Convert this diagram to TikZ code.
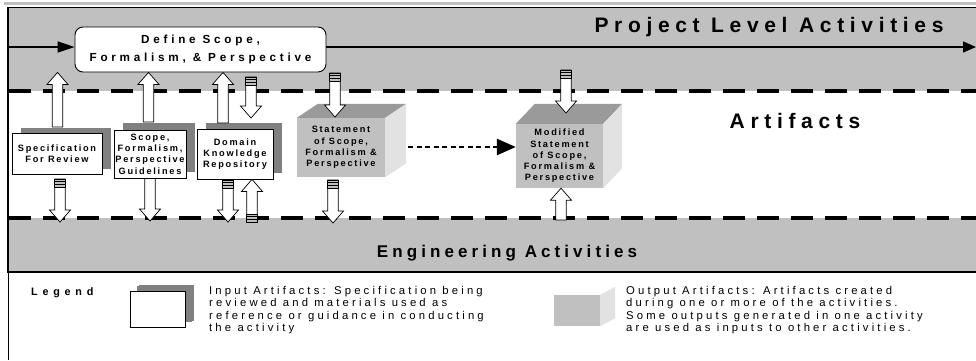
\documentclass[tikz,border=0pt]{standalone}
\usepackage{fontspec}
\setmainfont{Liberation Sans}
\usetikzlibrary{arrows.meta,calc,shadows}
\definecolor{band}{HTML}{C0C0C0}
\definecolor{shad}{HTML}{808080}
\definecolor{ctop}{HTML}{9A9A9A}
\definecolor{cside}{HTML}{E2E2E2}
\definecolor{cfront}{HTML}{C0C0C0}
\tikzset{
  bigtitle/.style={font=\bfseries\addfontfeatures{LetterSpace=27}\fontsize{21}{24}\selectfont, inner sep=0pt, anchor=base},
  engtitle/.style={font=\bfseries\addfontfeatures{LetterSpace=24}\fontsize{17}{20}\selectfont, inner sep=0pt, anchor=base},
  boxtxt/.style={font=\bfseries\addfontfeatures{LetterSpace=19}\fontsize{9.2}{11.3}\selectfont, align=center},
  inbox/.style={boxtxt, draw, line width=0.8pt, fill=white, inner sep=0pt,
    general shadow={fill=shad, shadow xshift=9pt, shadow yshift=6pt}},
  cubefront/.style={boxtxt, fill=cfront, inner sep=0pt},
  defbox/.style={draw, line width=0.9pt, fill=white, rounded corners=8pt, align=center, inner sep=0pt,
    font=\bfseries\addfontfeatures{LetterSpace=32}\fontsize{11.7}{18}\selectfont},
  legtxt/.style={font=\addfontfeatures{LetterSpace=28}\fontsize{11.3}{12.5}\selectfont, align=left, inner sep=0pt, anchor=north west},
  bandedge/.style={line width=3.5pt, dash pattern=on 22pt off 12pt},
  flowline/.style={line width=1.3pt},
}
\newcommand\barrow[2]{%
  \draw[line width=0.7pt, fill=white] let \p1=(#1), \p2=(#2), \n1={sign(\y2-\y1)} in
    (\x1-5.25pt,\y1) -- (\x1-5.25pt,\y2-\n1*12pt) -- (\x1-10.5pt,\y2-\n1*12pt) -- (\x1,\y2)
    -- (\x1+10.5pt,\y2-\n1*12pt) -- (\x1+5.25pt,\y2-\n1*12pt) -- (\x1+5.25pt,\y1) -- cycle;}
\newcommand\barrowT[2]{%
  \barrow{#1}{#2}%
  \filldraw[fill=band, line width=0.7pt] let \p1=(#1), \p2=(#2), \n1={sign(\y2-\y1)} in
    (\x1-5.25pt,\y1) rectangle (\x1+5.25pt,\y1+\n1*8pt);
  \draw[line width=0.7pt] let \p1=(#1), \p2=(#2), \n1={sign(\y2-\y1)} in
    (\x1-5.25pt,\y1+\n1*2.7pt) -- (\x1+5.25pt,\y1+\n1*2.7pt)
    (\x1-5.25pt,\y1+\n1*5.3pt) -- (\x1+5.25pt,\y1+\n1*5.3pt);}
\begin{document}
\begin{tikzpicture}[x=1pt,y=-1pt]
\useasboundingbox (0,0) rectangle (976,360);
\fill[white] (0,0) rectangle (976,360);
% bands
\fill[band] (8,8) rectangle (976,91);
\fill[band] (8,218) rectangle (976,272);
\fill[band] (4,1.5) rectangle (976,5);
\draw[line width=1.3pt] (7,7.5) -- (976,7.5);
\draw[line width=2.2pt] (8,7) -- (8,273);
\draw[line width=2.5pt] (7,272) -- (976,272);
\draw[line width=0.8pt] (8,272) -- (8,360);
\draw[bandedge] (9,91) -- (976,91);
\draw[bandedge] (9,218) -- (976,218);

% titles
\node[bigtitle] (plat) at (769,32) {Project Level Activities};
\node[bigtitle] (art) at (795,128) {Artifacts};
\node[engtitle] (eng) at (507,257) {Engineering Activities};

% define box and flow line
\node[defbox, minimum width=251, minimum height=45] (define) at (200.5,49.5) {Define Scope,\\Formalism, \& Perspective};
\coordinate (hl) at (9,47);
\coordinate (hr) at (976,47);
\draw[flowline, -{Triangle[length=17pt,width=11pt]}] (hl) -- (define.west |- hl);
\draw[flowline, -{Triangle[length=13pt,width=11pt]}] (define.east |- hl) -- (hr);

% input artifacts
\node[inbox, minimum width=90, minimum height=41] (spec) at (57,154) {Specification\\For Review};
\node[inbox, minimum width=72, minimum height=48, general shadow={fill=shad, shadow xshift=9pt, shadow yshift=7pt}] (scope) at (150,154) {Scope,\\Formalism,\\Perspective\\Guidelines};
\node[inbox, minimum width=76, minimum height=50] (domain) at (235,154) {Domain\\Knowledge\\Repository};

% output artifacts
\node[cubefront, minimum width=88, minimum height=59] (stmt) at (341,147.5) {Statement\\of Scope,\\Formalism \&\\Perspective};
\fill[ctop] (stmt.north west) -- ++(21,-14) -- ($(stmt.north east)+(21,-14)$) -- (stmt.north east) -- cycle;
\fill[cside] (stmt.north east) -- ++(21,-14) -- ($(stmt.south east)+(21,-14)$) -- (stmt.south east) -- cycle;

\node[cubefront, minimum width=87, minimum height=64] (mod) at (559.5,156) {Modified\\Statement\\of Scope,\\Formalism \&\\Perspective};
\fill[ctop] (mod.north west) -- ++(19,-20) -- ($(mod.north east)+(19,-20)$) -- (mod.north east) -- cycle;
\fill[cside] (mod.north east) -- ++(19,-20) -- ($(mod.south east)+(19,-20)$) -- (mod.south east) -- cycle;

% dotted arrow
\coordinate (dstart) at (408,147);
\draw[line width=2.6pt, dash pattern=on 5pt off 3.5pt, -{Triangle[length=19pt,width=16pt]}] (dstart) -- (mod.west |- dstart);

% block arrow end points
\coordinate (a1) at (57.5,127);
\coordinate (a2) at (148.5,122);
\coordinate (a3) at (223,123);
\coordinate (d1) at (251,77);
\coordinate (d1e) at (251,118);
\coordinate (e1s) at (60,179);
\coordinate (e1) at (60,222);
\coordinate (e2) at (150,221);
\coordinate (e3s) at (228,180);
\coordinate (e3) at (228,222);
\coordinate (u1) at (252,222);
\coordinate (s1) at (335,73);
\coordinate (s1e) at (335,117);
\coordinate (s2s) at (333,180);
\coordinate (s2) at (333,223);
\coordinate (m1) at (566,70);
\coordinate (m1e) at (566,113);
\coordinate (m2) at (561,220);

\barrow{a1}{a1 |- define.south}
\barrow{a2}{a2 |- define.south}
\barrow{a3}{a3 |- define.south}
\barrowT{d1}{d1e}
\barrowT{e1s}{e1}
\barrow{e2 |- scope.south}{e2}
\barrowT{e3s}{e3}
\barrowT{u1}{u1 |- domain.south}
\barrowT{s1}{s1e}
\barrowT{s2s}{s2}
\barrowT{m1}{m1e}
\barrow{m2}{m2 |- mod.south}

% legend
\node[font=\bfseries\addfontfeatures{LetterSpace=44}\fontsize{10.8}{12}\selectfont, inner sep=0pt, anchor=base west] (leg) at (31,295.5) {Legend};
\node[inbox, minimum width=55, minimum height=36, general shadow={fill=shad, shadow xshift=7pt, shadow yshift=5pt}] (legin) at (157.5,309) {};
\node[legtxt] (legintxt) at (209,286) {Input Artifacts: Specification being\\reviewed and materials used as\\reference or guidance in conducting\\the activity};
\node[cubefront, minimum width=46, minimum height=31] (legout) at (577,310.5) {};
\fill[cside] (legout.north east) -- ++(15,-8) -- ($(legout.south east)+(15,-8)$) -- (legout.south east) -- cycle;
\node[legtxt] (legouttxt) at (626,286) {Output Artifacts: Artifacts created\\during one or more of the activities.\\Some outputs generated in one activity\\are used as inputs to other activities.};
\end{tikzpicture}
\end{document}
